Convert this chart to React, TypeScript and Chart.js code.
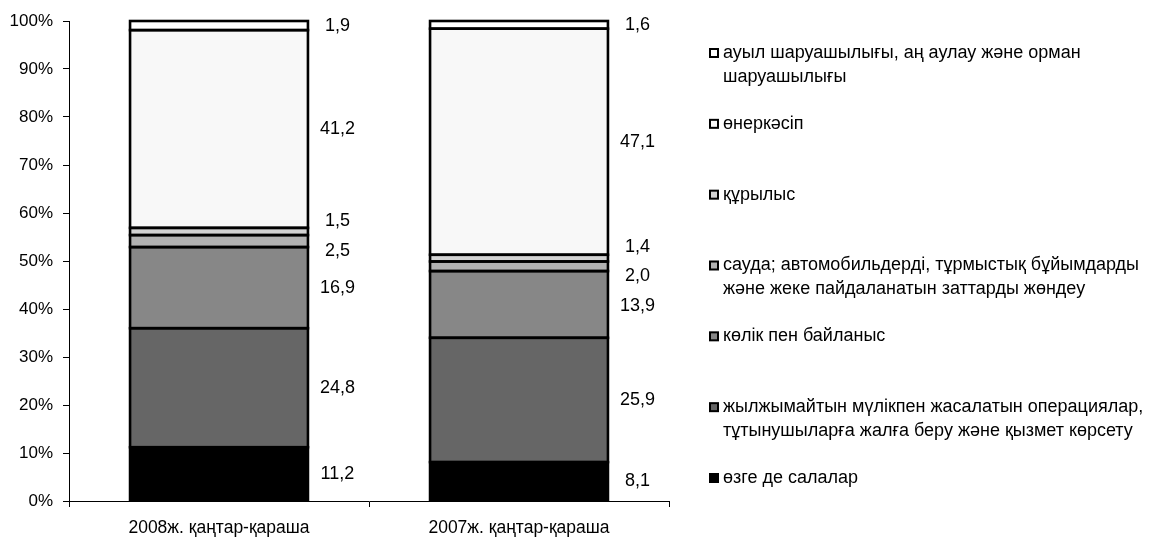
import React, { useEffect, useRef } from 'react';
import { Chart, registerables } from 'chart.js';

Chart.register(...registerables);

// ---- data ----
const categories = ['2008ж. қаңтар-қараша', '2007ж. қаңтар-қараша'];

// series, listed bottom to top of the stack
const otherValues = [11.2, 8.1];
const realEstateValues = [24.8, 25.9];
const transportValues = [16.9, 13.9];
const tradeValues = [2.5, 2.0];
const constructionValues = [1.5, 1.4];
const industryValues = [41.2, 47.1];
const agricultureValues = [1.9, 1.6];

const seriesLabels: string[][] = [
  ['өзге де салалар'],
  ['жылжымайтын мүлікпен жасалатын операциялар,', 'тұтынушыларға жалға беру және қызмет көрсету'],
  ['көлік пен байланыс'],
  ['сауда; автомобильдерді, тұрмыстық бұйымдарды', 'және жеке пайдаланатын заттарды жөндеу'],
  ['құрылыс'],
  ['өнеркәсіп'],
  ['ауыл шаруашылығы, аң аулау және орман', 'шаруашылығы'],
];

const seriesColors = ['#000000', '#666666', '#878787', '#b2b2b2', '#d2d2d2', '#f8f8f8', '#ffffff'];

const yTickValues = [0, 10, 20, 30, 40, 50, 60, 70, 80, 90, 100];

const FONT = '"Liberation Sans", Arial, sans-serif';

function spread(ys: number[], gap: number): number[] {
  const order = ys.map((_, i) => i).sort((a, b) => ys[a] - ys[b]);
  type Cl = { members: number[] };
  const clusters: Cl[] = order.map((i) => ({ members: [i] }));
  const start = (c: Cl) => {
    const mean = c.members.reduce((s, i) => s + ys[i], 0) / c.members.length;
    return mean - ((c.members.length - 1) * gap) / 2;
  };
  let changed = true;
  while (changed) {
    changed = false;
    for (let k = 0; k < clusters.length - 1; k++) {
      const a = clusters[k];
      const b = clusters[k + 1];
      const aEnd = start(a) + (a.members.length - 1) * gap;
      if (start(b) - aEnd < gap) {
        clusters.splice(k, 2, { members: [...a.members, ...b.members] });
        changed = true;
        break;
      }
    }
  }
  const out = new Array(ys.length).fill(0);
  clusters.forEach((c) => {
    const s = start(c);
    c.members.forEach((m, j) => {
      out[m] = s + j * gap;
    });
  });
  return out;
}

// outlines every bar segment with a line centred on its edges (like the original)
const outlinePlugin = {
  id: 'segmentOutline',
  afterDatasetsDraw(chart: any) {
    const ctx = chart.ctx;
    ctx.save();
    ctx.strokeStyle = '#000';
    ctx.lineWidth = 2.6;
    chart.data.datasets.forEach((_: any, di: number) => {
      chart.getDatasetMeta(di).data.forEach((el: any) => {
        const left = el.x - el.width / 2;
        const top = Math.min(el.y, el.base);
        const h = Math.abs(el.base - el.y);
        ctx.strokeRect(left, top, el.width, h);
      });
    });
    ctx.restore();
  },
};

const valueLabelPlugin = {
  id: 'valueLabels',
  afterDatasetsDraw(chart: any) {
    const ctx = chart.ctx;
    const nData = chart.data.labels.length;
    ctx.save();
    ctx.font = `18px ${FONT}`;
    ctx.fillStyle = '#000';
    ctx.textAlign = 'center';
    ctx.textBaseline = 'middle';
    for (let i = 0; i < nData; i++) {
      const mids: number[] = [];
      const texts: string[] = [];
      let xRight = 0;
      chart.data.datasets.forEach((ds: any, di: number) => {
        const el = chart.getDatasetMeta(di).data[i];
        mids.push((el.y + el.base) / 2);
        texts.push(Number(ds.data[i]).toFixed(1).replace('.', ','));
        xRight = el.x + el.width / 2;
      });
      const ys = spread(mids, 29.5);
      texts.forEach((t, k) => ctx.fillText(t, xRight + 29.5, ys[k]));
    }
    ctx.restore();
  },
};

const legendPlugin = {
  id: 'sideLegend',
  afterDraw(chart: any) {
    const ctx = chart.ctx;
    const area = chart.chartArea;
    const n = chart.data.datasets.length;
    const top = area.top + 32;
    const bottom = area.bottom - 23;
    const step = (bottom - top) / (n - 1);
    const boxX = area.right + 40;
    const textX = boxX + 14;
    ctx.save();
    ctx.font = `18px ${FONT}`;
    ctx.textAlign = 'left';
    ctx.textBaseline = 'middle';
    for (let j = 0; j < n; j++) {
      const di = n - 1 - j;
      const ds = chart.data.datasets[di];
      const y = top + j * step;
      ctx.fillStyle = '#000';
      ctx.fillRect(boxX, y - 5, 10, 10);
      ctx.fillStyle = ds.backgroundColor;
      ctx.fillRect(boxX + 2, y - 3, 6, 6);
      ctx.fillStyle = '#000';
      const lines: string[] = seriesLabels[di];
      lines.forEach((ln, li) => ctx.fillText(ln, textX, y + li * 24));
    }
    ctx.restore();
  },
};

export default function App() {
  const ref = useRef<HTMLCanvasElement>(null);
  useEffect(() => {
    const values = [
      otherValues,
      realEstateValues,
      transportValues,
      tradeValues,
      constructionValues,
      industryValues,
      agricultureValues,
    ];
    const chart = new Chart(ref.current as HTMLCanvasElement, {
      type: 'bar',
      data: {
        labels: categories,
        datasets: values.map((v, i) => ({
          label: seriesLabels[i].join(' '),
          data: v,
          backgroundColor: seriesColors[i],
          borderWidth: 0,
          barPercentage: 0.593,
          categoryPercentage: 1,
        })),
      },
      options: {
        responsive: false,
        animation: false,
        layout: { padding: { top: 21, right: 484, left: 0, bottom: 0 } },
        plugins: {
          legend: { display: false },
          tooltip: { enabled: false },
        },
        scales: {
          x: {
            stacked: true,
            afterFit: (s: any) => {
              s.height = 37;
            },
            grid: { drawOnChartArea: false, drawTicks: true, tickLength: 6, color: '#000', lineWidth: 1 },
            border: { display: true, color: '#000', width: 1 },
            ticks: { color: '#000', font: { family: FONT, size: 17.5 }, padding: 11, maxRotation: 0, autoSkip: false },
          },
          y: {
            stacked: true,
            min: 0,
            max: 100,
            afterFit: (s: any) => {
              s.width = 69;
            },
            afterBuildTicks: (s: any) => {
              s.ticks = yTickValues.map((v) => ({ value: v }));
            },
            grid: { drawOnChartArea: false, drawTicks: true, tickLength: 6, color: '#000', lineWidth: 1 },
            border: { display: true, color: '#000', width: 1 },
            ticks: {
              color: '#000',
              font: { family: FONT, size: 17 },
              padding: 10,
              callback: (v: any) => `${v}%`,
            },
          },
        },
      },
      plugins: [outlinePlugin, valueLabelPlugin, legendPlugin],
    } as any);
    return () => chart.destroy();
  }, []);
  return (
    <div style={{ position: 'absolute', left: 0, top: 0, width: 1153, height: 538, background: '#fff' }}>
      <canvas ref={ref} width={1153} height={538} style={{ display: 'block' }} />
    </div>
  );
}
